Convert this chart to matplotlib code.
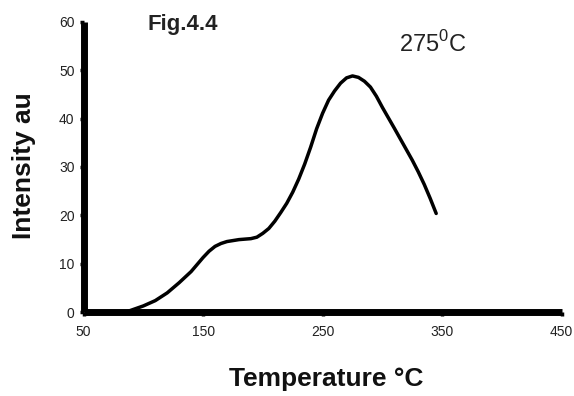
import matplotlib
matplotlib.use("Agg")
import matplotlib.pyplot as plt

temperature = [85, 100, 110, 120, 130, 140, 150, 155, 160, 165, 170, 180, 190, 195, 200,
               205, 210, 215, 220, 225, 230, 235, 240, 245, 250, 255, 260, 265, 270,
               275, 280, 285, 290, 295, 300, 310, 315, 320, 325, 330, 335, 340, 345]
intensity = [0.0, 1.3, 2.4, 4.0, 6.1, 8.4, 11.3, 12.6, 13.6, 14.2, 14.6, 15.0, 15.2, 15.5,
             16.3, 17.3, 18.8, 20.6, 22.5, 24.8, 27.5, 30.6, 34.1, 37.9, 41.1, 43.8,
             45.7, 47.3, 48.4, 48.8, 48.5, 47.7, 46.5, 44.6, 42.3, 38.0, 35.8, 33.6,
             31.4, 29.0, 26.4, 23.5, 20.4]
x_ticks = [50, 150, 250, 350, 450]
y_ticks = [0, 10, 20, 30, 40, 50, 60]

plt.rcParams['font.family'] = ['Liberation Sans', 'DejaVu Sans']

fig = plt.figure(figsize=(5.74, 3.96), dpi=100)
ax = fig.add_axes([0.1455, 0.2115, 0.8331, 0.7337])

ax.plot(temperature, intensity, color='black', lw=2.5, solid_capstyle='round',
        solid_joinstyle='round')

ax.set_xlim(50, 450)
ax.set_ylim(0, 60)
ax.set_xticks(x_ticks)
ax.set_yticks(y_ticks)
for s in ['top', 'right']:
    ax.spines[s].set_visible(False)
for s in ['left', 'bottom']:
    ax.spines[s].set_linewidth(5)
    ax.spines[s].set_capstyle('butt')
ax.tick_params(direction='out', length=3, width=2.5, labelsize=10,
               labelcolor='#222222')
ax.tick_params(axis='x', pad=6)
ax.tick_params(axis='y', pad=3.5)

fig.text(0.568, 0.024, 'Temperature \u00b0C', fontsize=19, fontweight='bold',
         color='#111111', ha='center', va='baseline')
fig.text(0.042, 0.582, 'Intensity au', fontsize=19, fontweight='bold',
         color='#111111', ha='center', va='center', rotation=90)

ax.text(132.8, 58.3, 'Fig.4.4', fontsize=16, fontweight='bold', color='#222222',
        ha='center', va='baseline')
ax.text(342.4, 53.8, r'275$^{\mathregular{0}}$C', fontsize=17, color='#222222',
        ha='center', va='baseline')

fig.savefig('out.png', dpi=100)
